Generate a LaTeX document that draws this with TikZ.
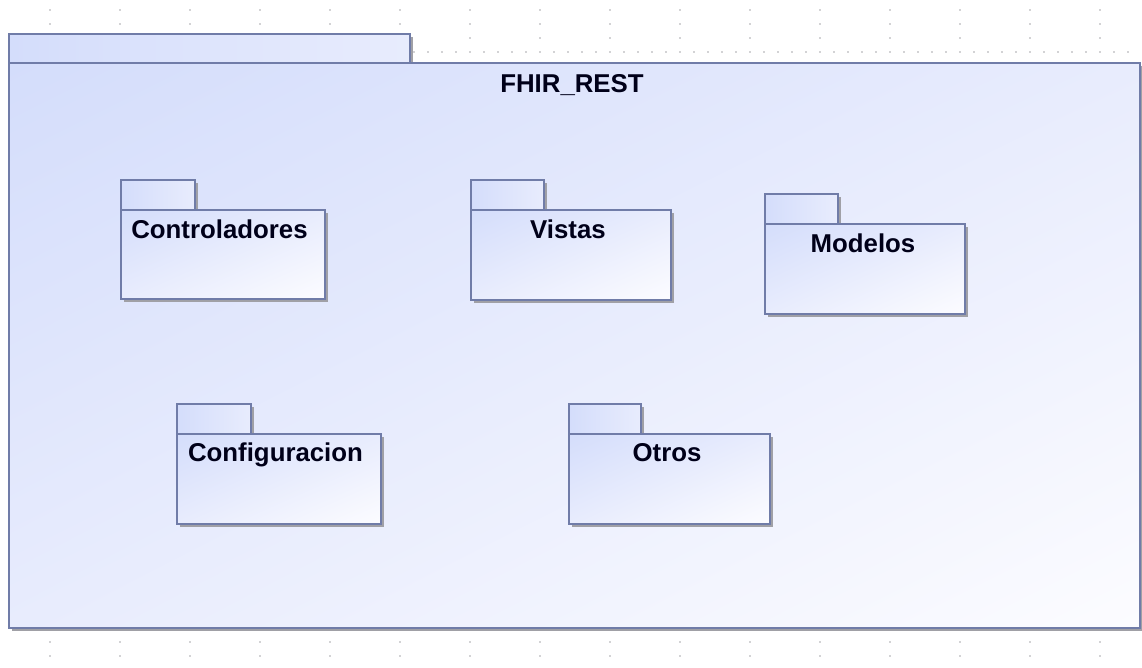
\documentclass[tikz,border=0pt]{standalone}
\usepackage{fontspec}
\setmainfont{Liberation Sans}
\usetikzlibrary{shadings}
\definecolor{pkgborder}{RGB}{112,124,168}
\definecolor{pkgA}{RGB}{212,221,251}
\definecolor{pkgM}{RGB}{232,236,253}
\definecolor{pkgB}{RGB}{252,252,255}
\definecolor{shadowc}{RGB}{160,160,166}
\definecolor{gridc}{RGB}{165,165,170}
\tikzset{
  pkgshape/.style={draw=pkgborder, line width=1.5pt, inner sep=0pt, anchor=north west,
    upper left=pkgA, lower right=pkgB, upper right=pkgM, lower left=pkgM},
  pkgtab/.style={draw=pkgborder, line width=1.5pt, inner sep=0pt, anchor=north west,
    upper left=pkgA, lower right=pkgM, upper right=pkgM, lower left=pkgA},
  pkglabel/.style={font=\bfseries\fontsize{25.8}{30}\selectfont, anchor=base, inner sep=0pt, text=black!90!blue},
  shadowbox/.style={fill=shadowc, draw=none},
  griddot/.style={fill=gridc, draw=none}
}
\newcommand\umlpkg[7]{%
  \fill[shadowbox] ({#4},{#3+4}) rectangle ({#4+4},{#5});
  \fill[shadowbox] ({#2+4},{#5+4}) rectangle ({#6+4},{#7+4});
  \node[pkgtab, minimum width={#4-#2}, minimum height={#5-#3}] (#1-tab) at (#2,#3) {};
  \node[pkgshape, minimum width={#6-#2}, minimum height={#7-#5}] (#1) at (#2,#5) {};
}
\begin{document}
\begin{tikzpicture}[x=1pt,y=-1pt]
\useasboundingbox (0,0) rectangle (1142,667);
% grid dots
\foreach \x in {50,120,...,400} \foreach \y in {10,24} \fill[griddot] (\x,\y) circle (0.9);
\foreach \x in {470,540,...,1100} \foreach \y in {10,24,38} \fill[griddot] (\x,\y) circle (0.9);
\foreach \x in {414,428,...,1135} \fill[griddot] (\x,52) circle (0.9);
\foreach \x in {50,120,...,1100} \foreach \y in {642,656} \fill[griddot] (\x,\y) circle (0.9);
% main package
\umlpkg{fhir}{8}{33}{409}{62}{1139}{627}
\node[pkglabel] (fhir-label) at (572,92) {FHIR\_REST};
% sub packages
\umlpkg{ctrl}{120}{179}{194}{209}{324}{298}
\node[pkglabel] (ctrl-label) at (219.5,238.5) {Controladores};
\umlpkg{vist}{470}{179}{543}{209}{670}{299}
\node[pkglabel] (vist-label) at (568,238.5) {Vistas};
\umlpkg{mode}{764}{193}{837}{223}{964}{313}
\node[pkglabel] (mode-label) at (863,252.5) {Modelos};
\umlpkg{conf}{176}{403}{250}{433}{380}{523}
\node[pkglabel] (conf-label) at (275.5,461.5) {Configuracion};
\umlpkg{otro}{568}{403}{640}{433}{769}{523}
\node[pkglabel] (otro-label) at (667,461.5) {Otros};
\end{tikzpicture}
\end{document}
